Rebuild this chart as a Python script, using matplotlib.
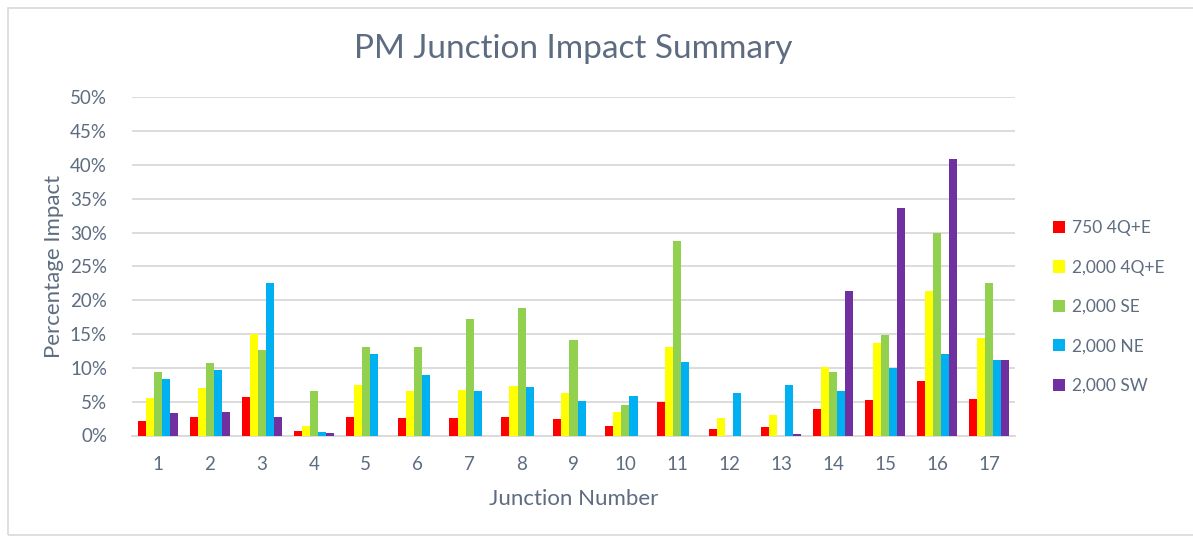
import numpy as np
import matplotlib.pyplot as plt
from matplotlib.patches import Rectangle
from matplotlib.ticker import PercentFormatter

junctions = [str(i) for i in range(1, 18)]
series_names = ['750 4Q+E', '2,000 4Q+E', '2,000 SE', '2,000 NE', '2,000 SW']
colors = ['#FF0000', '#FFFF00', '#92D050', '#00B0F0', '#7030A0']

# values in percent
v750_4qe = [2.2, 2.7, 5.7, 0.7, 2.8, 2.55, 2.55, 2.8, 2.4, 1.4, 5.0, 1.0, 1.2, 3.9, 5.2, 8.1, 5.4]
v2000_4qe = [5.5, 7.05, 15.0, 1.4, 7.5, 6.6, 6.7, 7.35, 6.3, 3.5, 13.1, 2.55, 3.0, 10.1, 13.65, 21.4, 14.35]
v2000_se = [9.4, 10.75, 12.6, 6.55, 13.1, 13.1, 17.2, 18.8, 14.1, 4.45, 28.7, 0, 0, 9.45, 14.8, 30.0, 22.6]
v2000_ne = [8.3, 9.75, 22.5, 0.5, 12.0, 9.0, 6.55, 7.2, 5.1, 5.9, 10.9, 6.25, 7.4, 6.55, 9.95, 12.0, 11.1]
v2000_sw = [3.35, 3.5, 2.75, 0.3, 0, 0, 0, 0, 0, 0, 0, 0, 0.2, 21.4, 33.7, 40.9, 11.1]

series = [v750_4qe, v2000_4qe, v2000_se, v2000_ne, v2000_sw]
text_col = '#5D6C80'
plt.rcParams['font.family'] = ['Lato', 'DejaVu Sans']

fig = plt.figure(figsize=(11.93, 5.38), dpi=100)
# light chart border
fig.patches.append(Rectangle((8 / 1193, 0.005), 1.2, 0.98, transform=fig.transFigure,
                             fill=False, edgecolor='#D9D9D9', lw=1.2))
ax = fig.add_axes([132 / 1193, 1 - 435.5 / 538, (1015 - 132) / 1193, (435.5 - 97.3) / 538])

x = np.arange(len(junctions))
w = 0.155
for i, (name, vals, c) in enumerate(zip(series_names, series, colors)):
    ax.bar(x + (i - 2) * w, vals, width=w, color=c, label=name, zorder=3)

ax.set_xlim(-0.5, len(junctions) - 0.5)
ax.set_ylim(0, 50)
ax.set_yticks(range(0, 51, 5))
ax.yaxis.set_major_formatter(PercentFormatter(decimals=0))
ax.set_xticks(x)
ax.set_xticklabels(junctions)
ax.grid(axis='y', color='#D9D9D9', lw=1.3, zorder=0)
for s in ['top', 'right', 'left']:
    ax.spines[s].set_visible(False)
ax.spines['bottom'].set_color('#D9D9D9')
ax.spines['bottom'].set_linewidth(1.3)
ax.tick_params(length=0, colors=text_col, labelsize=13.5)
ax.tick_params(axis='x', pad=15)
ax.tick_params(axis='y', pad=18)

ax.set_title('PM Junction Impact Summary', color=text_col, fontsize=24, pad=28)
ax.set_xlabel('Junction Number', color=text_col, fontsize=16, labelpad=11)
ax.set_ylabel('Percentage Impact', color=text_col, fontsize=16, labelpad=4)

leg = ax.legend(loc='center left', bbox_to_anchor=(1.025, 0.38), frameon=False,
                fontsize=12.5, labelspacing=1.35, handlelength=0.7, handleheight=0.7,
                handletextpad=0.4)
for t in leg.get_texts():
    t.set_color(text_col)

fig.savefig('out.png', dpi=100)
